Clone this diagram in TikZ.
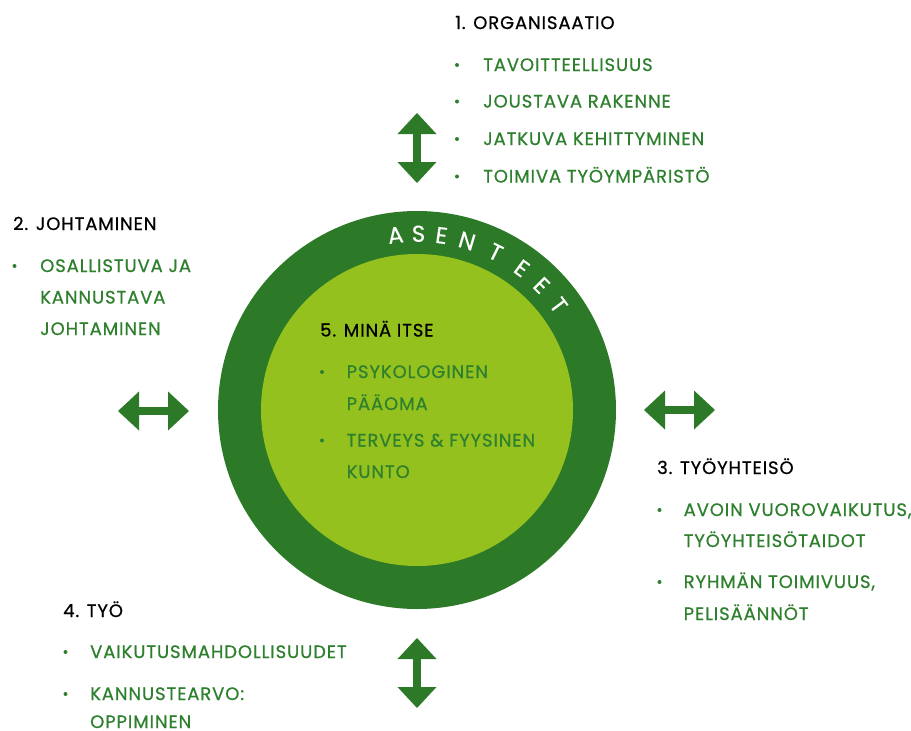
\documentclass[tikz,border=0pt]{standalone}
\usepackage{fontspec}
\setmainfont{Poppins}
\newfontfamily\labelfont{Poppins}[FakeBold=0.7, LetterSpace=5]
\newfontfamily\ringfont{Poppins}[FakeBold=0.4]
\usetikzlibrary{arrows.meta}
\definecolor{ringgreen}{RGB}{44,122,40}
\definecolor{coregreen}{RGB}{149,193,31}
\definecolor{itemgreen}{RGB}{46,128,46}
\begin{document}
\begin{tikzpicture}[x=1pt,y=-1pt,
  heading/.style={anchor=base west, inner sep=0pt, text depth=0pt, font=\labelfont\fontsize{18}{21}\selectfont, text=black},
  item/.style={anchor=base west, inner sep=0pt, text depth=0pt, font=\labelfont\fontsize{18}{21}\selectfont, text=itemgreen},
  dotmark/.style={circle, fill=itemgreen, inner sep=0pt, minimum size=4pt},
  ringletter/.style={inner sep=0pt, text height=15.5pt, text depth=0pt, font=\ringfont\fontsize{23}{27}\selectfont, text=white},
  twoway/.style={draw=ringgreen, line width=8.5pt,
    {Triangle[width=39pt,length=21pt,line width=0pt]}-{Triangle[width=39pt,length=21pt,line width=0pt]}}]
\useasboundingbox (0,0) rectangle (911,731);

% circles
\node[circle, fill=ringgreen, inner sep=0pt, minimum size=398pt] (outer) at (417,410) {};
\node[circle, fill=coregreen, inner sep=0pt, minimum size=312pt] (inner) at (417,410) {};
\coordinate (ctr) at (417,410);

% ASENTEET along the ring
\foreach \ch/\ang [count=\i] in {A/97,S/89.5,E/82,N/73.5,T/63.5,E/53.5,E/45,T/36.5}{
  \path (ctr) ++(\ang:176pt) node[ringletter, rotate=\ang-90] (ring\i) {\ch};
}

% arrows
\coordinate (t1) at (417,113); \coordinate (t2) at (417,183);
\coordinate (b1) at (417,638); \coordinate (b2) at (417,708);
\coordinate (l1) at (118,411); \coordinate (l2) at (189,411);
\coordinate (r1) at (644,410); \coordinate (r2) at (715,410);
\draw[twoway] (t1) -- (t2);
\draw[twoway] (b1) -- (b2);
\draw[twoway] (l1) -- (l2);
\draw[twoway] (r1) -- (r2);

% 1. Organisaatio
\node[heading] (h1) at (455,29) {1. ORGANISAATIO};
\node[dotmark] (d11) at (457,65) {};
\node[item] (i11) at (483,71) {TAVOITTEELLISUUS};
\node[dotmark] (d12) at (457,101.5) {};
\node[item] (i12) at (483,107.5) {JOUSTAVA RAKENNE};
\node[dotmark] (d13) at (457,139) {};
\node[item] (i13) at (483,145) {JATKUVA KEHITTYMINEN};
\node[dotmark] (d14) at (457,176.5) {};
\node[item] (i14) at (483,182.5) {TOIMIVA TYÖYMPÄRISTÖ};

% 2. Johtaminen
\node[heading] (h2) at (13,230) {2. JOHTAMINEN};
\node[dotmark] (d21) at (14.5,266) {};
\node[item] (i21) at (40,272) {OSALLISTUVA JA};
\node[item] (i22) at (40,303.5) {KANNUSTAVA};
\node[item] (i23) at (40,335) {JOHTAMINEN};

% 3. Työyhteisö
\node[heading] (h3) at (657,474) {3. TYÖYHTEISÖ};
\node[dotmark] (d31) at (659.5,510) {};
\node[item] (i31) at (683.5,516) {AVOIN VUOROVAIKUTUS,};
\node[item] (i32) at (683.5,547) {TYÖYHTEISÖTAIDOT};
\node[dotmark] (d32) at (659.5,582) {};
\node[item] (i33) at (683.5,588) {RYHMÄN TOIMIVUUS,};
\node[item] (i34) at (683.5,620) {PELISÄÄNNÖT};

% 4. Työ
\node[heading] (h4) at (63,617) {4. TYÖ};
\node[dotmark] (d41) at (65.5,652) {};
\node[item] (i41) at (90,658) {VAIKUTUSMAHDOLLISUUDET};
\node[dotmark] (d42) at (65.5,694) {};
\node[item] (i42) at (90,700) {KANNUSTEARVO:};
\node[item] (i43) at (90,728) {OPPIMINEN};

% 5. Minä itse
\node[heading] (h5) at (320,336.5) {5. MINÄ ITSE};
\node[dotmark] (d51) at (322,372) {};
\node[item] (i51) at (346.5,378) {PSYKOLOGINEN};
\node[item] (i52) at (346.5,410) {PÄÄOMA};
\node[dotmark] (d52) at (322,440.5) {};
\node[item] (i53) at (346.5,446.5) {TERVEYS \& FYYSINEN};
\node[item] (i54) at (346.5,478) {KUNTO};
\end{tikzpicture}
\end{document}
